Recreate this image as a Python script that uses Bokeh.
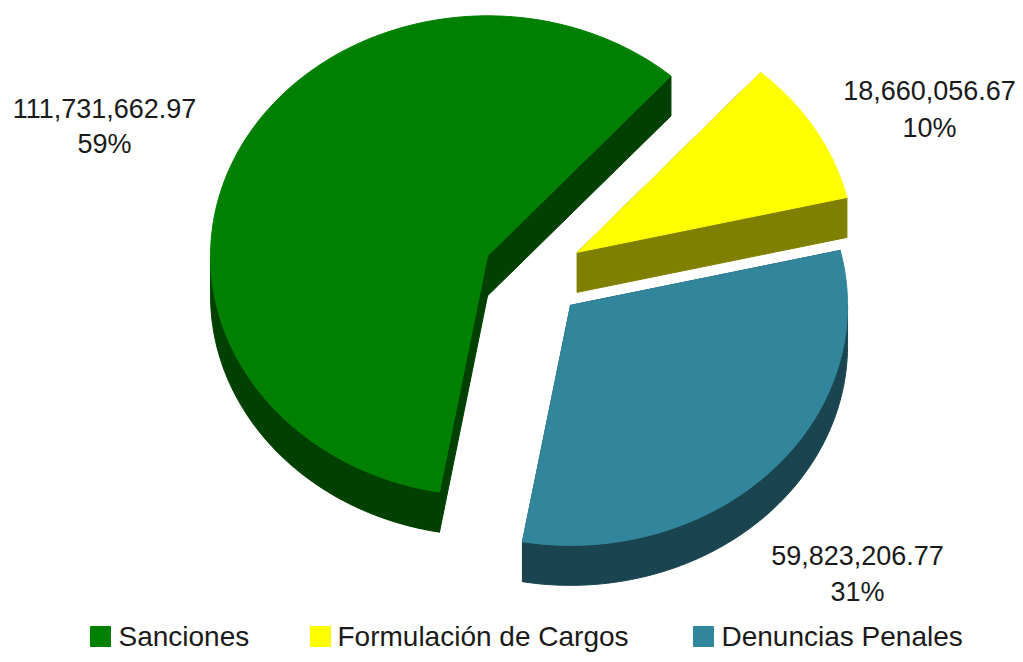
import numpy as np
from bokeh.plotting import figure
from bokeh.models import Range1d, ColumnDataSource
from bokeh.embed import file_html
from bokeh.resources import INLINE
from bokeh.core.properties import value

# ---------------- data ----------------
categories = ["Sanciones", "Formulación de Cargos", "Denuncias Penales"]
amounts = [111731662.97, 18660056.67, 59823206.77]
value_labels = ["111,731,662.97", "18,660,056.67", "59,823,206.77"]
top_colors = ["#008000", "#FFFF00", "#31869B"]
side_colors = ["#004000", "#808000", "#1B4451"]

# ---------------- layout (pixel space of the reference) ----------------
CX, CY = 533.0, 274.5      # pie centre
RX, RY = 277.0, 240.0      # ellipse radii of the top face
DEPTH = 40.0               # extrusion depth
EXPLODE = 51.0             # explode distance
START_DEG = 260.0          # first slice starts here, going clockwise
LABEL_POS = [(104, 108, 143), (929, 90, 127), (857, 555, 591)]  # (x, value y, pct y)
LEGEND_Y = 636
LEGEND_SQ_X = [100, 320, 703]
LEGEND_TX_X = [118, 337, 721]
FONT = "Liberation Sans"

W, H = 1015, 654
p = figure(width=W, height=H, output_backend="svg", toolbar_location=None,
           x_range=Range1d(0, W), y_range=Range1d(H, 0),
           min_border=0, background_fill_color="white", border_fill_color="white")
p.axis.visible = False
p.grid.visible = False
p.outline_line_color = None

total = float(sum(amounts))
fracs = [a / total for a in amounts]
ratio = RY / RX

slices = []
cum = 0.0
for i, f in enumerate(fracs):
    a0 = START_DEG - cum * 360.0
    a1 = a0 - f * 360.0
    cum += f
    mid = np.radians((a0 + a1) / 2.0)
    ax = CX + EXPLODE * np.cos(mid)
    ay = CY - EXPLODE * ratio * np.sin(mid)
    slices.append((i, a1, a0, ax, ay))


def pt(ax, ay, deg):
    t = np.radians(deg)
    return ax + RX * np.cos(t), ay - RY * np.sin(t)


# draw back to front (by apex y)
for i, lo, hi, ax, ay in sorted(slices, key=lambda s: s[4]):
    xs, ys = [], []
    # radial faces
    for e in (lo, hi):
        px, py = pt(ax, ay, e)
        xs.append([ax, px, px, ax])
        ys.append([ay, py, py + DEPTH, ay + DEPTH])
    # visible outer wall (lower half of ellipse)
    for k in range(-2, 3):
        wlo = max(lo, -180.0 + 360.0 * k)
        whi = min(hi, 0.0 + 360.0 * k)
        if whi > wlo:
            th = np.linspace(wlo, whi, 120)
            px, py = pt(ax, ay, th)
            xs.append(list(px) + list(px[::-1]))
            ys.append(list(py) + list((py + DEPTH)[::-1]))
    p.patches(xs, ys, fill_color=side_colors[i], line_color=side_colors[i], line_width=1)
    # top face
    th = np.linspace(lo, hi, 240)
    px, py = pt(ax, ay, th)
    p.patch([ax] + list(px), [ay] + list(py), fill_color=top_colors[i],
            line_color=top_colors[i], line_width=1)

# data labels
pct_labels = ["%d%%" % round(f * 100) for f in fracs]
lab = ColumnDataSource(dict(
    x=[lp[0] for lp in LABEL_POS], yv=[lp[1] for lp in LABEL_POS],
    yp=[lp[2] for lp in LABEL_POS], v=value_labels, pc=pct_labels))
p.text(x="x", y="yv", text="v", source=lab, text_font=value(FONT), text_font_size="27px",
       text_align="center", text_baseline="middle", text_color="#1a1a1a")
p.text(x="x", y="yp", text="pc", source=lab, text_font=value(FONT), text_font_size="27px",
       text_align="center", text_baseline="middle", text_color="#1a1a1a")

# legend
leg = ColumnDataSource(dict(sx=LEGEND_SQ_X, tx=LEGEND_TX_X, y=[LEGEND_Y] * 3,
                            c=top_colors, t=categories))
p.scatter(x="sx", y="y", source=leg, marker="square", size=20, fill_color="c",
          line_color="c")
p.text(x="tx", y="y", text="t", source=leg, text_font=value(FONT), text_font_size="28px",
       text_align="left", text_baseline="middle", text_color="#1a1a1a")

open("out.html", "w").write(file_html(p, INLINE))
